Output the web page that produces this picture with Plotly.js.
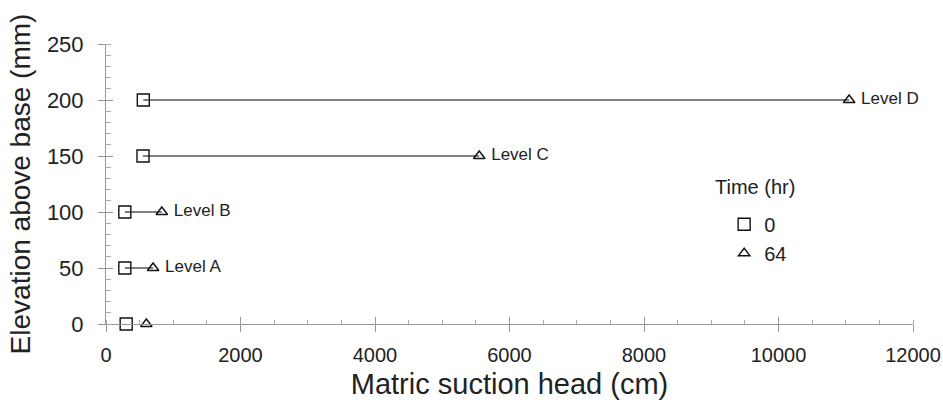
<!DOCTYPE html>
<html><head><meta charset="utf-8">
<script src="https://cdn.plot.ly/plotly-3.0.1.min.js"></script>
<style>html,body{margin:0;padding:0;background:#fff}#chart{width:943px;height:413px}</style>
</head><body><div id="chart"></div>
<script>
const levels = ["", "Level A", "Level B", "Level C", "Level D"];
const elevation = [0, 50, 100, 150, 200];
const suction0h = [300, 280, 280, 550, 555];
const suction64h = [600, 700, 830, 5550, 11050];
const connectLevel = [false, true, true, true, true];
const xTicks = [0, 2000, 4000, 6000, 8000, 10000, 12000];
const yTicks = [0, 50, 100, 150, 200, 250];
const xRange = [0, 12000];
const yRange = [0, 250];

const lx = [], ly = [];
for (let i = 0; i < elevation.length; i++) {
  if (!connectLevel[i]) continue;
  lx.push(suction0h[i], suction64h[i], null);
  ly.push(elevation[i], elevation[i], null);
}
const font = "Liberation Sans, Arial, sans-serif";
const traces = [
  {x: lx, y: ly, mode: 'lines', line: {color: '#555', width: 1.5}, showlegend: false, hoverinfo: 'skip', cliponaxis: false},
  {x: suction0h, y: elevation, mode: 'markers', name: '0', legendgroup: 'a', cliponaxis: false,
   marker: {symbol: 'square-open', size: 12, color: '#111', line: {width: 1.4}}},
  {x: suction64h, y: elevation, mode: 'markers+text', name: '64', legendgroup: 'b', cliponaxis: false,
   text: levels.map(t => t ? '\u00a0' + t : ''), textposition: 'middle right',
   textfont: {family: font, size: 17, color: '#222'},
   marker: {symbol: 'triangle-up-open', size: 10, color: '#111', line: {width: 1.4}}},
  {x: [], y: [], xaxis: 'x2', yaxis: 'y2', mode: 'markers', showlegend: false, hoverinfo: 'skip'}
];
const axisCommon = {
  showgrid: false, zeroline: false, showline: true, linecolor: '#999', linewidth: 1,
  ticks: 'outside', ticklen: 7, tickcolor: '#999', tickwidth: 1, tickmode: 'array'
};
const overlayCommon = {
  showgrid: false, zeroline: false, showline: false, showticklabels: false,
  ticks: 'inside', ticklen: 7, tickcolor: '#999', tickwidth: 1, tickmode: 'array'
};
const layout = {
  width: 943, height: 413,
  margin: {l: 106, r: 30, t: 44, b: 89},
  paper_bgcolor: '#fff', plot_bgcolor: '#fff',
  font: {family: font, color: '#222'},
  xaxis: Object.assign({}, axisCommon, {
    range: xRange, tickvals: xTicks, ticktext: xTicks.map(String),
    tickfont: {family: font, size: 20, color: '#222'}, ticklabelstandoff: 6,
    minor: {dtick: 500, ticks: 'inside', ticklen: 4, tickcolor: '#aaa'},
    title: {text: 'Matric suction head (cm)', font: {family: font, size: 29, color: '#222'}, standoff: 8}
  }),
  yaxis: Object.assign({}, axisCommon, {
    range: yRange, tickvals: yTicks, ticktext: yTicks.map(String),
    tickfont: {family: font, size: 22, color: '#222'}, ticklabelstandoff: 10,
    minor: {dtick: 10, ticks: 'inside', ticklen: 5, tickcolor: '#aaa'},
    title: {text: 'Elevation above base (mm)', font: {family: font, size: 28, color: '#222'}, standoff: 8}
  }),
  xaxis2: Object.assign({}, overlayCommon, {overlaying: 'x', anchor: 'y2', range: xRange, tickvals: xTicks}),
  yaxis2: Object.assign({}, overlayCommon, {overlaying: 'y', anchor: 'x2', range: yRange, tickvals: yTicks}),
  showlegend: true,
  legend: {x: 0.766, y: 0.426, xanchor: 'left', yanchor: 'top', bgcolor: 'rgba(0,0,0,0)',
    font: {family: font, size: 20, color: '#222'}, tracegroupgap: 0, itemwidth: 30},
  annotations: [{text: 'Time (hr)', xref: 'paper', yref: 'paper', x: 0.752, y: 0.489, xanchor: 'left', yanchor: 'middle',
    showarrow: false, font: {family: font, size: 20, color: '#222'}}]
};
Plotly.newPlot('chart', traces, layout, {displayModeBar: false, staticPlot: true});
</script></body></html>
